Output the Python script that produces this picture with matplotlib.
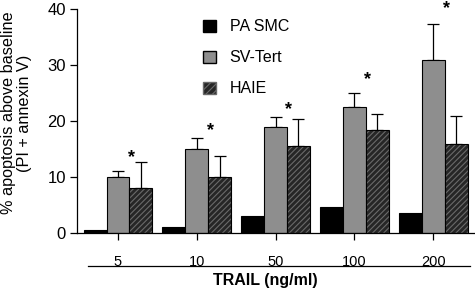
import matplotlib
matplotlib.use("Agg")
import matplotlib.pyplot as plt
from matplotlib.patches import Patch
import numpy as np

plt.rcParams['font.family'] = ['Liberation Sans', 'DejaVu Sans']
plt.rcParams['hatch.linewidth'] = 0.8

categories = ["5", "10", "50", "100", "200"]
series_names = ["PA SMC", "SV-Tert", "HAIE"]
pa_smc = [0.6, 1.0, 3.0, 4.6, 3.6]
sv_tert = [10.0, 14.9, 19.0, 22.4, 30.9]
sv_tert_err = [1.1, 2.0, 1.7, 2.6, 6.4]
haie = [8.0, 10.0, 15.6, 18.4, 15.8]
haie_err = [4.6, 3.7, 4.7, 2.9, 5.0]
star_y = [13.5, 18.3, 22.0, 27.3, 40.0]
y_ticks = [0, 10, 20, 30, 40]

fig = plt.figure(figsize=(4.75, 2.90), dpi=100)
ax = fig.add_axes([0.162, 0.197, 0.838, 0.772])

x = np.arange(len(categories))
w = 0.29

ax.bar(x - w, pa_smc, w, color='black', edgecolor='black', linewidth=0.8, zorder=2)
ax.bar(x, sv_tert, w, color='#8e8e8e', edgecolor='black', linewidth=0.8, zorder=2)
ax.bar(x + w, haie, w, color='#262626', edgecolor='#6a6a6a', hatch='//////', linewidth=0, zorder=2)
ax.bar(x + w, haie, w, fill=False, edgecolor='black', linewidth=0.8, zorder=3)

ax.errorbar(x, sv_tert, yerr=[np.zeros(5), sv_tert_err], fmt='none', ecolor='black',
            elinewidth=0.9, capsize=4, capthick=0.9, zorder=1)
ax.errorbar(x + w, haie, yerr=[np.zeros(5), haie_err], fmt='none', ecolor='black',
            elinewidth=0.9, capsize=4, capthick=0.9, zorder=1)

for xi, sy in zip(x, star_y):
    ax.text(xi + 0.17, sy, "*", ha='center', va='center', fontsize=13, fontweight='bold',
            clip_on=False)

ax.set_xlim(-0.52, 4.53)
ax.set_ylim(0, 40)
ax.set_yticks(y_ticks)
ax.set_yticklabels([str(t) for t in y_ticks], fontsize=12)
ax.set_xticks(x)
ax.set_xticklabels(categories, fontsize=10.5)
ax.tick_params(axis='both', direction='out', length=5, width=0.9, colors='black')
ax.tick_params(axis='x', pad=11)
ax.tick_params(axis='y', pad=3)
for s in ['top', 'right']:
    ax.spines[s].set_visible(False)
for s in ['left', 'bottom']:
    ax.spines[s].set_linewidth(0.9)

ax.set_ylabel("% apoptosis above baseline\n(PI + annexin V)", fontsize=11.7, linespacing=1.1)
ax.yaxis.label.set_va('center')
ax.yaxis.set_label_coords(-0.151, 0.535)

# line under tick labels and x title
fig.add_artist(plt.Line2D([88 / 475, 470 / 475], [1 - 266 / 290, 1 - 266 / 290],
                          color='black', linewidth=0.9))
fig.text(265 / 475, 1 - 281 / 290, "TRAIL (ng/ml)", ha='center', va='center',
         fontsize=11.5, fontweight='bold')

handles = [Patch(facecolor='black', edgecolor='black'),
           Patch(facecolor='#8e8e8e', edgecolor='black'),
           Patch(facecolor='#262626', edgecolor='#6a6a6a', hatch='/////')]
leg = fig.legend(handles, series_names, loc='upper left', bbox_to_anchor=(189 / 475, 1 - 5 / 290),
                 frameon=False, fontsize=11.5, handlelength=0.8, handleheight=0.8,
                 labelspacing=1.0, handletextpad=0.85)

fig.savefig("out.png", dpi=100)
